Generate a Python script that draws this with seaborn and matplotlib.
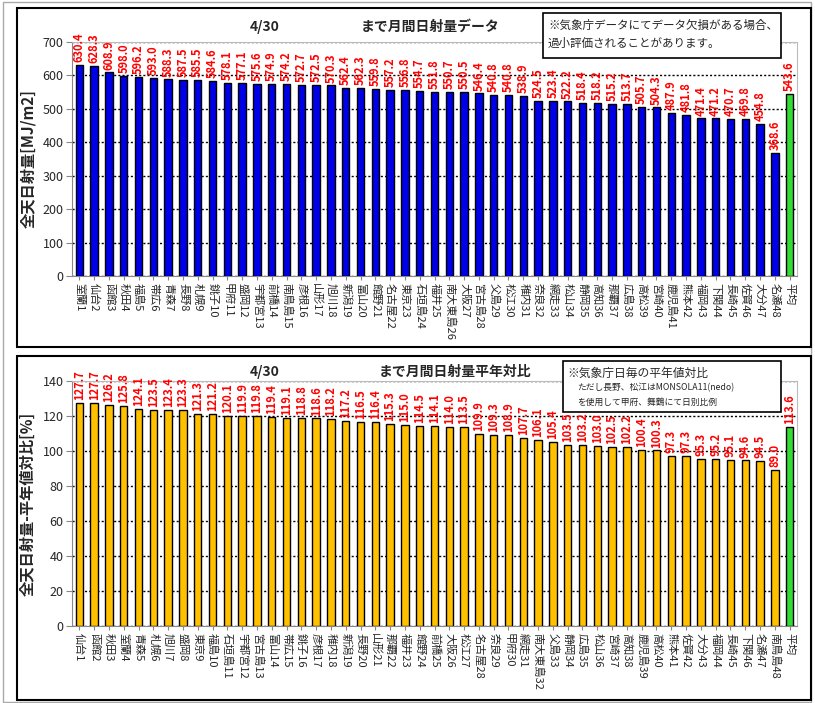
import numpy as np
import pandas as pd
import matplotlib
matplotlib.use('Agg')
import matplotlib.pyplot as plt
from matplotlib.patches import Rectangle
import seaborn as sns

# --- data: monthly radiation up to 4/30 ---
top_names = ['室蘭', '仙台', '函館', '秋田', '福島', '帯広', '青森', '長野', '札幌', '銚子',
             '甲府', '盛岡', '宇都宮', '前橋', '南鳥島', '彦根', '山形', '旭川', '新潟', '富山',
             '館野', '名古屋', '東京', '石垣島', '福井', '南大東島', '大阪', '宮古島', '父島', '松江',
             '稚内', '奈良', '網走', '松山', '静岡', '高知', '那覇', '広島', '高松', '宮崎',
             '鹿児島', '熊本', '福岡', '下関', '長崎', '佐賀', '大分', '名瀬']
top_values = [630.4, 628.3, 608.9, 598.0, 596.2, 593.0, 588.3, 587.5, 585.5, 584.6,
              578.1, 577.1, 575.6, 574.9, 574.2, 572.7, 572.5, 570.3, 562.4, 562.3,
              559.8, 557.2, 556.8, 554.7, 551.8, 550.7, 550.5, 546.4, 540.8, 540.8,
              538.9, 524.5, 523.4, 522.2, 518.4, 518.2, 515.2, 513.7, 505.7, 504.3,
              487.9, 481.8, 471.4, 471.2, 470.7, 469.8, 454.8, 368.6]
top_mean = 543.6

bot_names = ['仙台', '函館', '秋田', '室蘭', '青森', '札幌', '旭川', '盛岡', '東京', '福島',
             '石垣島', '宇都宮', '宮古島', '富山', '帯広', '銚子', '彦根', '稚内', '新潟', '長野',
             '山形', '那覇', '福井', '館野', '前橋', '大阪', '松江', '名古屋', '奈良', '甲府',
             '網走', '南大東島', '父島', '静岡', '広島', '松山', '宮崎', '高知', '鹿児島', '高松',
             '熊本', '佐賀', '大分', '福岡', '長崎', '下関', '名瀬', '南鳥島']
bot_values = [127.7, 127.7, 126.2, 125.8, 124.1, 123.5, 123.4, 123.3, 121.3, 121.2,
              120.1, 119.9, 119.8, 119.4, 119.1, 118.8, 118.6, 118.2, 117.2, 116.5,
              116.4, 115.3, 115.0, 114.5, 114.1, 114.0, 113.5, 109.9, 109.3, 108.9,
              107.7, 106.1, 105.4, 103.5, 103.2, 103.0, 102.5, 102.2, 100.4, 100.3,
              97.3, 97.3, 95.3, 95.2, 95.1, 94.6, 94.5, 89.0]
bot_mean = 113.6

BLUE = '#0000E6'
GOLD = '#FFC000'
GREEN = '#33DD33'

sns.set_style('white')
plt.rcParams['font.family'] = ['Noto Sans CJK JP', 'DejaVu Sans']

fig = plt.figure(figsize=(8.15, 7.03), dpi=100)
W, H = 815, 703


def fx(px):
    return px / W


def fy(py):
    return 1 - py / H


def draw_panel(ax, names, values, mean, color, ymax, ystep, ylabel):
    labels = [f'{n}{i + 1}' for i, n in enumerate(names)] + ['平均']
    vals = list(values) + [mean]
    df = pd.DataFrame({'station': labels, 'value': vals})
    colors = [color] * len(values) + [GREEN]
    sns.barplot(data=df, x='station', y='value', hue='station', palette=colors,
                saturation=1, legend=False, width=0.5, edgecolor='black',
                linewidth=1.0, ax=ax, zorder=3)
    ax.set_xlim(-0.5, len(vals) - 0.5)
    ax.set_ylim(0, ymax)
    ax.set_yticks(np.arange(0, ymax + 1, ystep))
    ax.yaxis.grid(True, linestyle=(0, (1.5, 1.5)), color='black', linewidth=1.0, zorder=0)
    ax.set_axisbelow(True)
    for s in ['top', 'right']:
        ax.spines[s].set_color('#BBBBBB')
    for s in ['left', 'bottom']:
        ax.spines[s].set_color('#888888')
    ax.tick_params(axis='y', labelsize=9, length=4, direction='out', left=True, color='#888888', pad=2)
    ax.tick_params(axis='x', labelsize=8, length=3, direction='out', bottom=True, color='#888888', pad=2)
    ax.set_xticks(range(len(vals)))
    ax.set_xticklabels(labels, rotation=-90, ha='center', va='top')
    ax.set_xlabel('')
    ax.set_ylabel(ylabel, fontsize=11, fontweight='bold', labelpad=4)
    off = ymax * 0.012
    for i, v in enumerate(vals):
        ax.text(i, v + off, f'{v:.1f}', rotation=90, ha='center', va='bottom',
                color='#FF0000', fontsize=8, fontweight='bold', clip_on=False, zorder=5)


# top panel
ax1 = fig.add_axes([fx(72), fy(276), fx(797) - fx(72), fy(42) - fy(276)])
draw_panel(ax1, top_names, top_values, top_mean, BLUE, 700, 100, '全天日射量[MJ/m2]')
ax1.yaxis.set_label_coords(-0.05, 0.5)

# bottom panel
ax2 = fig.add_axes([fx(72), fy(626), fx(797) - fx(72), fy(381) - fy(626)])
draw_panel(ax2, bot_names, bot_values, bot_mean, GOLD, 140, 20, '全天日射量-平年値対比[%]')
ax2.yaxis.set_label_coords(-0.05, 0.5)

# titles
fig.text(fx(265), fy(27), '4/30', ha='center', va='center', fontsize=10, fontweight='bold')
fig.text(fx(430), fy(27), 'まで月間日射量データ', ha='center', va='center', fontsize=10, fontweight='bold')
fig.text(fx(265), fy(372), '4/30', ha='center', va='center', fontsize=10, fontweight='bold')
fig.text(fx(455), fy(372), 'まで月間日射量平年対比', ha='center', va='center', fontsize=10, fontweight='bold')

# panel frames
fig.patches.append(Rectangle((fx(3), fy(702)), fx(811) - fx(3), fy(2) - fy(702), transform=fig.transFigure,
                             fill=False, edgecolor='#AAAAAA', linewidth=1))
fig.patches.append(Rectangle((fx(17), fy(347)), fx(811) - fx(17), fy(8) - fy(347), transform=fig.transFigure,
                             fill=False, edgecolor='black', linewidth=1.5))
fig.patches.append(Rectangle((fx(17), fy(700)), fx(811) - fx(17), fy(356) - fy(700), transform=fig.transFigure,
                             fill=False, edgecolor='black', linewidth=1.5))

# note boxes
fig.patches.append(Rectangle((fx(543), fy(58)), fx(781) - fx(543), fy(13) - fy(58), transform=fig.transFigure,
                             facecolor='white', edgecolor='black', linewidth=1.2, zorder=10))
fig.text(fx(548), fy(25), '※気象庁データにてデータ欠損がある場合、', ha='left', va='center', fontsize=8.3, zorder=11)
fig.text(fx(548), fy(43), '過小評価されることがあります。', ha='left', va='center', fontsize=8.3, zorder=11)

fig.patches.append(Rectangle((fx(563), fy(412)), fx(781) - fx(563), fy(361) - fy(412), transform=fig.transFigure,
                             facecolor='white', edgecolor='black', linewidth=1.2, zorder=10))
fig.text(fx(567), fy(373), '※気象庁日毎の平年値対比', ha='left', va='center', fontsize=8.5, zorder=11)
fig.text(fx(577), fy(388), 'ただし長野、松江はMONSOLA11(nedo)', ha='left', va='center', fontsize=6.3, zorder=11)
fig.text(fx(577), fy(402), 'を使用して甲府、舞鶴にて日別比例', ha='left', va='center', fontsize=6.3, zorder=11)

fig.savefig('out.png', dpi=100)
